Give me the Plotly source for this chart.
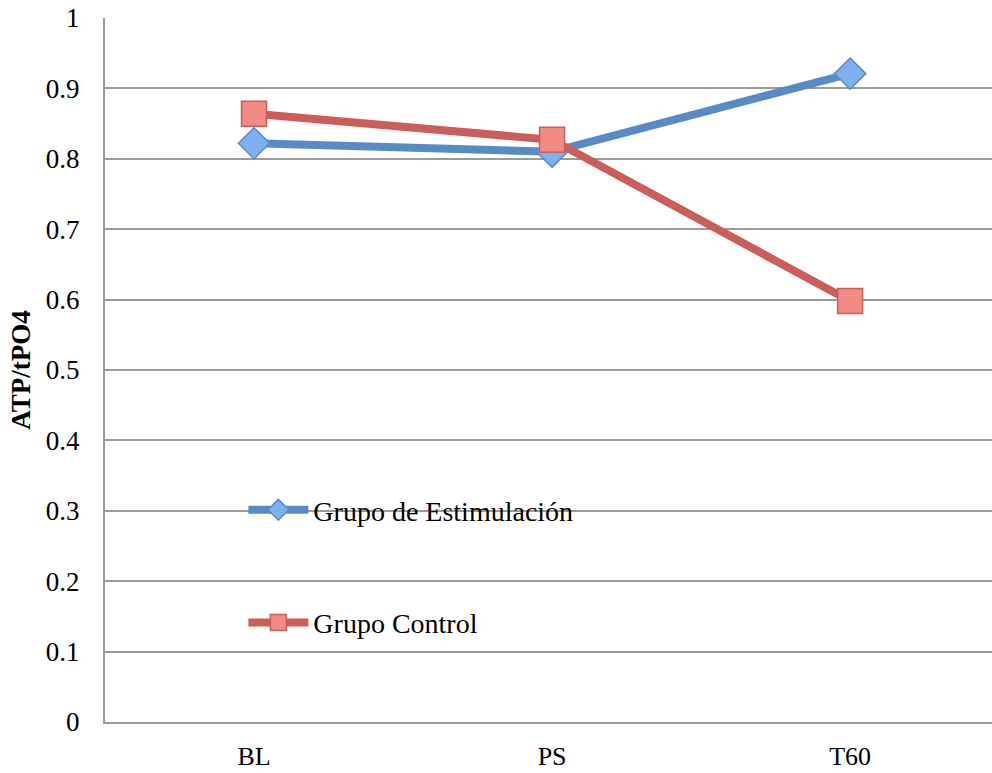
import plotly.graph_objects as go

categories = ["BL", "PS", "T60"]
estimulacion = [0.822, 0.810, 0.921]
control = [0.864, 0.827, 0.598]
y_ticks = [0, 0.1, 0.2, 0.3, 0.4, 0.5, 0.6, 0.7, 0.8, 0.9, 1]
y_tick_labels = ["0", "0.1", "0.2", "0.3", "0.4", "0.5", "0.6", "0.7", "0.8", "0.9", "1"]

FONT = "Liberation Serif"

fig = go.Figure()
fig.add_trace(go.Scatter(
    x=categories, y=estimulacion, mode="lines+markers", name="Grupo de Estimulación",
    line=dict(color="#5A8AC6", width=8),
    marker=dict(symbol="diamond", size=24, color="#7EB0EE", line=dict(color="#5A8AC6", width=1.5)),
    legend="legend", showlegend=True,
))
fig.add_trace(go.Scatter(
    x=categories, y=control, mode="lines+markers", name="Grupo Control",
    line=dict(color="#CB5E5A", width=8),
    marker=dict(symbol="square", size=25, color="#F28A86", line=dict(color="#CB5E5A", width=1.5)),
    legend="legend2", showlegend=True,
))

fig.update_layout(
    width=992, height=773,
    margin=dict(l=105, r=0, t=18, b=51),
    paper_bgcolor="white", plot_bgcolor="white",
    showlegend=True,
    font=dict(family=FONT, size=27, color="black"),
    legend=dict(x=0.156, y=0.301, xanchor="left", yanchor="middle", bgcolor="rgba(0,0,0,0)",
                font=dict(family=FONT, size=28), itemwidth=60),
    legend2=dict(x=0.156, y=0.141, xanchor="left", yanchor="middle", bgcolor="rgba(0,0,0,0)",
                 font=dict(family=FONT, size=28), itemwidth=60),
    xaxis=dict(
        type="category", range=[-0.5, 2.476], showgrid=False, automargin=False,
        showline=True, linecolor="#9A9A9A", linewidth=2, ticks="", ticklen=0,
        tickfont=dict(family=FONT, size=26), zeroline=False, ticklabelstandoff=10,
    ),
    yaxis=dict(
        range=[0, 1], tickvals=y_ticks, ticktext=y_tick_labels, automargin=False,
        showgrid=True, gridcolor="#9A9A9A", gridwidth=2,
        showline=True, linecolor="#9A9A9A", linewidth=2, ticks="",
        tickfont=dict(family=FONT, size=27), zeroline=False, ticklabelstandoff=18,
        title=dict(text="<b>ATP/tPO4</b>", font=dict(family=FONT, size=27), standoff=7),
    ),
)

fig.write_html("out.html", config={"displayModeBar": False},
               post_script="document.body.style.margin='0';")
